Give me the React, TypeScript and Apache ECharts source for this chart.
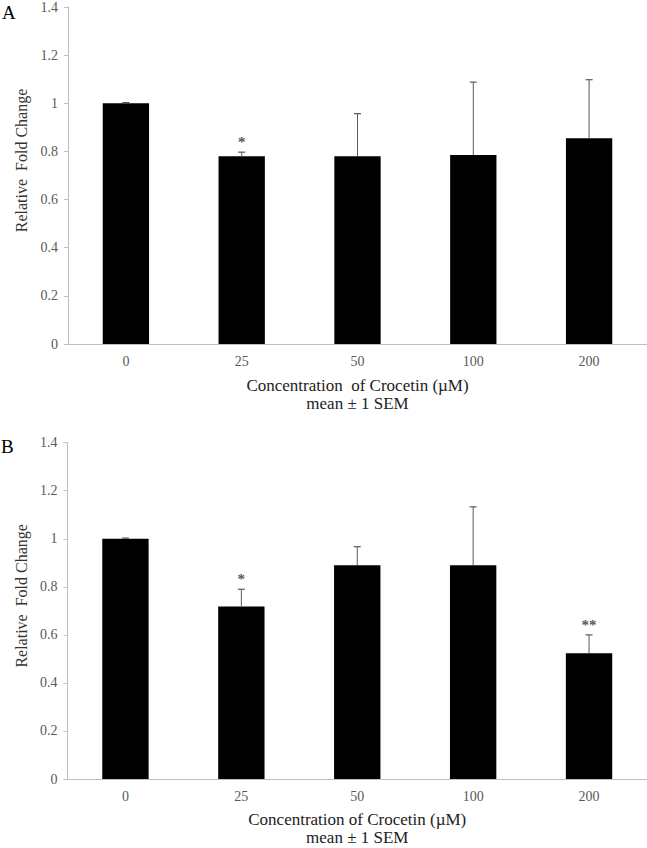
import React, { useEffect, useRef } from "react";
import * as echarts from "echarts";

const categories = ["0", "25", "50", "100", "200"];
const meansA = [1.0, 0.78, 0.78, 0.785, 0.855];
const semA = [0.003, 0.017, 0.177, 0.303, 0.243];
const sigA = ["", "*", "", "", ""];
const meansB = [1.0, 0.718, 0.89, 0.89, 0.523];
const semB = [0.003, 0.072, 0.077, 0.243, 0.077];
const sigB = ["", "*", "", "", "**"];
const yTicks = { min: 0, max: 1.4, interval: 0.2 };
const xTitleA = "Concentration  of Crocetin (\u00b5M)\nmean \u00b1 1 SEM";
const xTitleB = "Concentration of Crocetin (\u00b5M)\nmean \u00b1 1 SEM";
const yTitle = "Relative  Fold Change";

const FONT = "Liberation Serif";
const GRAY = "#595959";
const AXIS = "#bfbfbf";

function errData(means: number[], sem: number[], sig: string[]) {
  return means.map((m, i) => [i, m, sem[i], sig[i]]);
}

const renderErr = (params: any, api: any) => {
  const i = api.value(0);
  const m = api.value(1);
  const s = api.value(2);
  const idx = params.dataIndex;
  const sig = params.seriesId === "errB" ? sigB[idx] : sigA[idx];
  const p0 = api.coord([i, m]);
  const p1 = api.coord([i, m + s]);
  const children: any[] = [
    {
      type: "line",
      shape: { x1: p0[0], y1: p0[1], x2: p1[0], y2: p1[1] },
      style: { stroke: GRAY, lineWidth: 1 },
    },
    {
      type: "line",
      shape: { x1: p1[0] - 3.5, y1: p1[1], x2: p1[0] + 3.5, y2: p1[1] },
      style: { stroke: GRAY, lineWidth: 1.2 },
    },
  ];
  if (sig) {
    children.push({
      type: "text",
      x: p1[0],
      y: p1[1] - 10,
      style: {
        text: sig,
        fill: GRAY,
        fontSize: 15,
        fontFamily: FONT,
        fontWeight: "bold",
        align: "center",
        verticalAlign: "middle",
      },
    });
  }
  return { type: "group", children };
};

function xAxisCfg(gridIndex: number, name: string, nameGap: number) {
  return {
    type: "category",
    gridIndex,
    data: categories,
    axisLine: { show: true, lineStyle: { color: AXIS, width: 1 } },
    axisTick: { show: false },
    axisLabel: { color: GRAY, fontSize: 14, fontFamily: FONT, margin: 10 },
    name,
    nameLocation: "middle",
    nameGap,
    nameTextStyle: { color: "#222", fontSize: 17, fontFamily: FONT, lineHeight: 18.5 },
  };
}

function yAxisCfg(gridIndex: number) {
  return {
    type: "value",
    gridIndex,
    min: yTicks.min,
    max: yTicks.max,
    interval: yTicks.interval,
    axisLine: { show: true, lineStyle: { color: AXIS, width: 1 } },
    axisTick: { show: true, length: 4, lineStyle: { color: AXIS } },
    splitLine: { show: false },
    axisLabel: {
      color: GRAY,
      fontSize: 14,
      fontFamily: FONT,
      margin: 10,
      formatter: (v: number) => String(Number(v.toFixed(1))),
    },
    name: yTitle,
    nameLocation: "middle",
    nameGap: 36,
    nameRotate: 90,
    nameTextStyle: {
      color: "#333",
      fontSize: 16,
      fontFamily: FONT,
      padding: [0, 0, 0, 30],
    },
  };
}

export default function App() {
  const ref = useRef<HTMLDivElement>(null);
  useEffect(() => {
    if (!ref.current) return;
    const chart = echarts.init(ref.current, undefined, { renderer: "svg" });
    chart.setOption({
      animation: false,
      backgroundColor: "#ffffff",
      textStyle: { fontFamily: FONT },
      grid: [
        { left: 68, top: 5, width: 588, height: 339 },
        { left: 67.5, top: 442.7, width: 588, height: 339 },
      ],
      xAxis: [xAxisCfg(0, xTitleA, 32), xAxisCfg(1, xTitleB, 31)],
      yAxis: [yAxisCfg(0), yAxisCfg(1)],
      graphic: [
        { type: "text", left: 2, top: 3, style: { text: "A", fill: "#000", fontSize: 19, fontFamily: FONT } },
        { type: "text", left: 1, top: 437, style: { text: "B", fill: "#000", fontSize: 19, fontFamily: FONT } },
      ],
      series: [
        {
          id: "barA",
          type: "bar",
          xAxisIndex: 0,
          yAxisIndex: 0,
          data: meansA,
          barWidth: "40%",
          itemStyle: { color: "#000" },
        },
        {
          id: "errA",
          type: "custom",
          xAxisIndex: 0,
          yAxisIndex: 0,
          data: errData(meansA, semA, sigA),
          renderItem: renderErr,
          clip: false,
          z: 5,
        },
        {
          id: "barB",
          type: "bar",
          xAxisIndex: 1,
          yAxisIndex: 1,
          data: meansB,
          barWidth: "40%",
          itemStyle: { color: "#000" },
        },
        {
          id: "errB",
          type: "custom",
          xAxisIndex: 1,
          yAxisIndex: 1,
          data: errData(meansB, semB, sigB),
          renderItem: renderErr,
          clip: false,
          z: 5,
        },
      ],
    });
    return () => chart.dispose();
  }, []);
  return (
    <div
      ref={ref}
      style={{ position: "fixed", left: 0, top: 0, width: 647, height: 848, background: "#fff" }}
    />
  );
}
